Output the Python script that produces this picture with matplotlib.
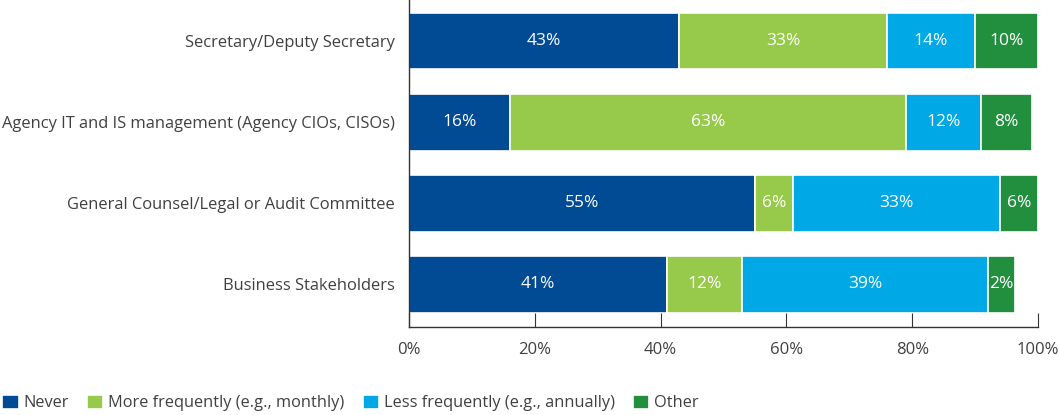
import numpy as np
import matplotlib.pyplot as plt

plt.rcParams['font.family'] = ['Open Sans', 'DejaVu Sans']

categories = ['Secretary/Deputy Secretary',
              'Agency IT and IS management (Agency CIOs, CISOs)',
              'General Counsel/Legal or Audit Committee',
              'Business Stakeholders']
series = ['Never', 'More frequently (e.g., monthly)',
          'Less frequently (e.g., annually)', 'Other']
never = [43, 16, 55, 41]
more_freq = [33, 63, 6, 12]
less_freq = [14, 12, 33, 39]
other = [10, 8, 6, 4.4]          # last bar is drawn wider than its label in the source
other_labels = [10, 8, 6, 2]
colors = ['#004b93', '#97c94a', '#00a9e6', '#218f3e']

fig = plt.figure(figsize=(10.59, 4.15), dpi=100)
ax = fig.add_axes([409 / 1059, 1 - 327 / 415, 629 / 1059, 327 / 415])

y = np.arange(len(categories))
values = [never, more_freq, less_freq, other]
labels = [never, more_freq, less_freq, other_labels]
left = np.zeros(len(categories))
for vals, labs, col, name in zip(values, labels, colors, series):
    bars = ax.barh(y, vals, left=left, height=0.7, color=col,
                   edgecolor='white', linewidth=1.2, label=name)
    for b, lab in zip(bars, labs):
        ax.text(b.get_x() + b.get_width() / 2, b.get_y() + b.get_height() / 2,
                f'{lab}%', ha='center', va='center', color='white', fontsize=12.5)
    left += np.array(vals)

txt = '#404040'
ax.set_ylim(3.525, -0.506)
ax.set_xlim(0, 100)
ax.set_yticks(y)
ax.set_yticklabels(categories, fontsize=11.9, color=txt)
ax.tick_params(axis='y', length=0, pad=10)
ax.set_xticks(np.arange(0, 101, 20))
ax.set_xticklabels([f'{v}%' for v in range(0, 101, 20)], fontsize=12, color=txt)
ax.tick_params(axis='x', direction='in', length=10, color='#333333', pad=11)
for s in ['top', 'right']:
    ax.spines[s].set_visible(False)
for s in ['left', 'bottom']:
    ax.spines[s].set_color('#333333')
    ax.spines[s].set_linewidth(1)

fig.legend(loc='center left', bbox_to_anchor=(0.002, 1 - 403 / 415), ncol=4,
           frameon=False, fontsize=11.8, handlelength=1.0, handleheight=1.0,
           handletextpad=0.3, columnspacing=1.1, borderpad=0, borderaxespad=0,
           labelcolor=txt)

fig.savefig('out.png', dpi=100)
